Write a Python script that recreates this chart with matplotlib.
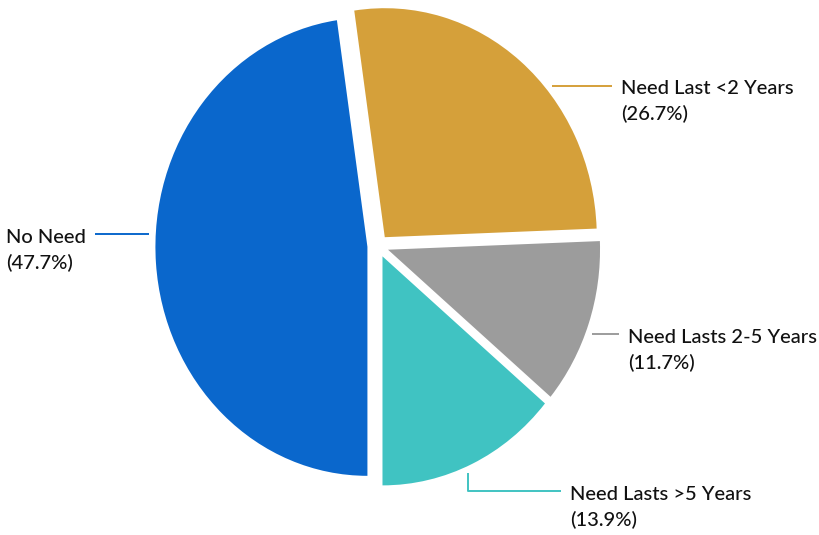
import matplotlib.pyplot as plt
import numpy as np

# data (clockwise from the top)
labels = ["Need Last <2 Years", "Need Lasts 2-5 Years", "Need Lasts >5 Years", "No Need"]
shares = [26.7, 11.7, 13.9, 47.7]
colors = ["#D5A03A", "#9C9C9C", "#40C3C2", "#0A67CC"]

# where each leader line leaves its wedge (degrees) and how it runs (px: down, across)
anchor_angles = [40, -21, -67, 177]
leader_runs = [(0, 60), (0, 27), (18, 93), (0, -54)]

W, H = 820, 535
fig = plt.figure(figsize=(W / 100, H / 100), dpi=100)

# pie centre and radii in pixels; the scan is a little taller than wide
cx, cy, rx, ry = 378, 246, 212, 229
lim = 1.08
ax = fig.add_axes([(cx - lim * rx) / W, 1 - (cy + lim * ry) / H,
                   2 * lim * rx / W, 2 * lim * ry / H])

start = -90 + 360 * sum(shares[:3]) / sum(shares)
wedges, _ = ax.pie(shares, colors=colors, explode=[0.05] * len(shares),
                   startangle=start, counterclock=False,
                   wedgeprops=dict(linewidth=0))
ax.set_aspect("auto")
ax.set_xlim(-lim, lim)
ax.set_ylim(-lim, lim)

renderer = fig.canvas.get_renderer()
text_kw = dict(fontsize=14.5, family="Lato", weight="medium",
               color="#111111", va="baseline", clip_on=False)
gap = 9        # px between line end and text
drop = 8.5     # px from leader line down to first baseline
line_h = 26    # px between the two text lines

for w, name, pct, col, ang, (down, across) in zip(
        wedges, labels, shares, colors, anchor_angles, leader_runs):
    x0 = w.center[0] + 1.03 * np.cos(np.radians(ang))
    y0 = w.center[1] + 1.03 * np.sin(np.radians(ang))
    y1 = y0 - down / ry
    x2 = x0 + across / rx
    xs = [x0, x0, x2] if down else [x0, x2]
    ys = [y0, y1, y1] if down else [y0, y1]
    ax.plot(xs, ys, color=col, lw=1.4, clip_on=False, solid_capstyle="butt")

    side = 1 if across > 0 else -1
    tx = x2 + side * gap / rx
    t = ax.text(tx, y1 - drop / ry, name,
                ha="left" if side > 0 else "right", **text_kw)
    if side < 0:
        bb = t.get_window_extent(renderer)
        tx = tx - bb.width / rx
    ax.text(tx, y1 - (drop + line_h) / ry, f"({pct}%)", ha="left", **text_kw)

fig.savefig("out.png", dpi=100)
